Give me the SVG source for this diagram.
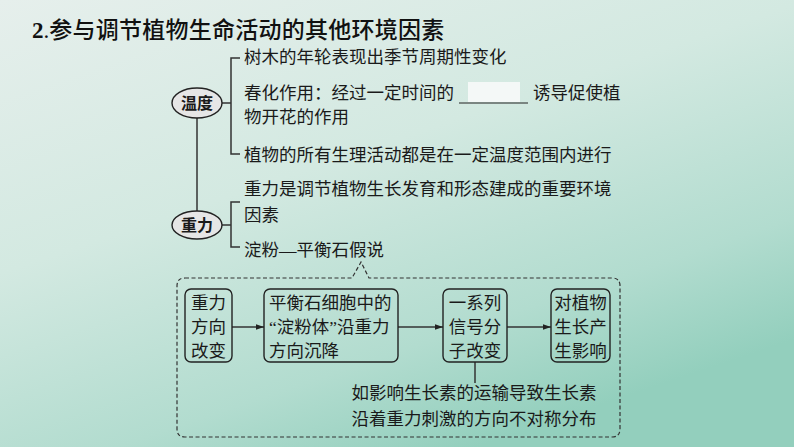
<svg xmlns="http://www.w3.org/2000/svg" width="794" height="447" viewBox="0 0 794 447">
<defs>
<linearGradient id="bg" x1="0" y1="0" x2="0.6" y2="1">
<stop offset="0" stop-color="#e6efec"/>
<stop offset="0.45" stop-color="#d3e9e1"/>
<stop offset="0.8" stop-color="#b2dccf"/>
<stop offset="1" stop-color="#93cfbd"/>
</linearGradient>
<marker id="ah" viewBox="0 0 10 10" refX="10" refY="5" markerWidth="8" markerHeight="8" markerUnits="userSpaceOnUse" orient="auto">
<path d="M0,1.5 L10,5 L0,8.5 z" fill="#222"/>
</marker>
<style>
.t{font-family:"Liberation Serif","Noto Sans CJK SC",serif;font-size:17.5px;fill:#1a1a1a;}
.c{text-anchor:middle;}
.ln{stroke:#333;stroke-width:1.5;fill:none;}
.box{stroke:#222;stroke-width:1.4;fill:none;}
.ell{stroke:#222;stroke-width:1.4;fill:#e6e6e6;}
.et{font-family:"Noto Sans CJK SC",sans-serif;font-size:16px;font-weight:bold;fill:#1a1a1a;text-anchor:middle;}
.dash{stroke:#333;stroke-width:1.2;fill:none;stroke-dasharray:4 2.5;}
</style>
</defs>
<rect width="794" height="447" fill="url(#bg)"/>
<g id="title">
<text x="32" y="38" style="font-family:'Liberation Serif',serif;font-size:23px;font-weight:bold;fill:#111;">2<tspan style="font-weight:normal">.</tspan><tspan style="font-family:'Noto Sans CJK SC',sans-serif;font-weight:500;" textLength="395">参与调节植物生命活动的其他环境因素</tspan></text>
</g>
<g id="connectors">
<path class="ln" d="M222,103 H231 M240,58 H231 V154 H240"/>
<path class="ln" d="M197,118 V212"/>
<path class="ln" d="M222,225 H231 M240,202 H231 V247 H240"/>
<path class="dash" d="M185,278 H352 L361,262 L369,278 H612 Q620,278 620,286 V429 Q620,437 612,437 H185 Q177,437 177,429 V286 Q177,278 185,278 Z"/>
<path class="ln" d="M232,327 H264" marker-end="url(#ah)"/>
<path class="ln" d="M398,327 H443" marker-end="url(#ah)"/>
<path class="ln" d="M507,327 H551" marker-end="url(#ah)"/>
<path class="ln" d="M475,362 V383"/>
</g>
<g id="node-wendu">
<ellipse class="ell" cx="197" cy="103" rx="25" ry="15"/>
<text class="et" x="197" y="109">温度</text>
</g>
<g id="wendu-items">
<text class="t" x="244" y="63">树木的年轮表现出季节周期性变化</text>
<text class="t" x="244" y="99">春化作用：经过一定时间的</text>
<rect x="468" y="82" width="52" height="20" fill="#f4f8f7"/>
<line x1="459" y1="103" x2="528" y2="103" stroke="#222" stroke-width="1"/>
<text class="t" x="533" y="99">诱导促使植</text>
<text class="t" x="244" y="123">物开花的作用</text>
<text class="t" x="244" y="161">植物的所有生理活动都是在一定温度范围内进行</text>
</g>
<g id="node-zhongli">
<ellipse class="ell" cx="197" cy="225" rx="25" ry="14"/>
<text class="et" x="197" y="231">重力</text>
</g>
<g id="zhongli-items">
<text class="t" x="244" y="195">重力是调节植物生长发育和形态建成的重要环境</text>
<text class="t" x="244" y="221">因素</text>
<text class="t" x="244" y="256">淀粉—平衡石假说</text>
</g>
<g id="box1">
<rect class="box" x="185" y="289" width="47" height="73" rx="6"/>
<text class="t c" x="208.5" y="309">重力</text>
<text class="t c" x="208.5" y="333">方向</text>
<text class="t c" x="208.5" y="357">改变</text>
</g>
<g id="box2">
<rect class="box" x="264" y="289" width="134" height="73" rx="6"/>
<text class="t" x="269" y="309">平衡石细胞中的</text>
<text class="t" x="269" y="333">“淀粉体”沿重力</text>
<text class="t" x="269" y="357">方向沉降</text>
</g>
<g id="box3">
<rect class="box" x="443" y="289" width="64" height="73" rx="6"/>
<text class="t c" x="475" y="309">一系列</text>
<text class="t c" x="475" y="333">信号分</text>
<text class="t c" x="475" y="357">子改变</text>
</g>
<g id="box4">
<rect class="box" x="551" y="289" width="59" height="73" rx="6"/>
<text class="t c" x="580.5" y="309">对植物</text>
<text class="t c" x="580.5" y="333">生长产</text>
<text class="t c" x="580.5" y="357">生影响</text>
</g>
<g id="note">
<text class="t c" x="474" y="399">如影响生长素的运输导致生长素</text>
<text class="t c" x="474" y="425">沿着重力刺激的方向不对称分布</text>
</g>
</svg>
